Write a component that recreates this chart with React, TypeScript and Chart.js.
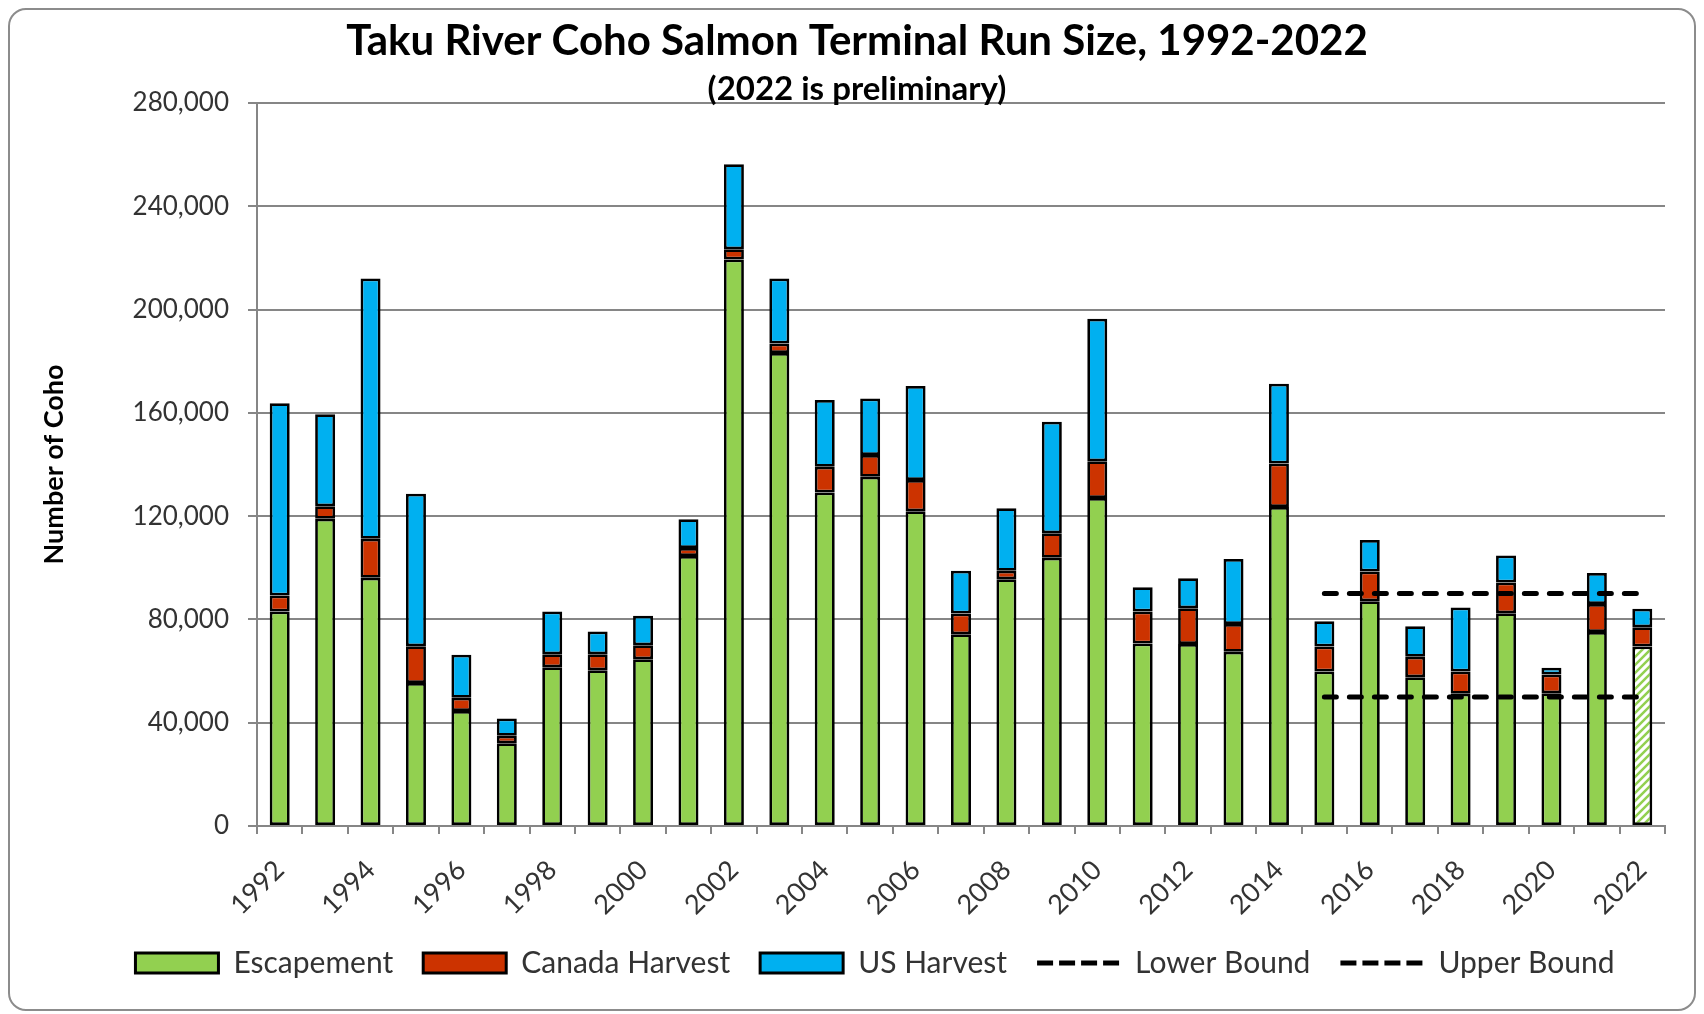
import React, { useEffect, useRef } from "react";
import { Chart, registerables } from "chart.js";

Chart.register(...registerables);

const years: string[] = [
  "1992", "1993", "1994", "1995", "1996", "1997", "1998", "1999", "2000", "2001",
  "2002", "2003", "2004", "2005", "2006", "2007", "2008", "2009", "2010", "2011",
  "2012", "2013", "2014", "2015", "2016", "2017", "2018", "2019", "2020", "2021", "2022",
];

const escapement: number[] = [
  83100, 119000, 96100, 55400, 44500, 32000, 61500, 60300, 64600, 104600,
  219400, 183200, 129200, 135300, 121900, 74300, 95600, 103900, 127000, 70700,
  70500, 67500, 123500, 59800, 87000, 57600, 51200, 82400, 51400, 75100, 69500,
];

const canadaHarvest: number[] = [
  6200, 4800, 15100, 14200, 5200, 3000, 5000, 6200, 5400, 3100,
  4000, 3700, 9900, 8400, 12100, 8000, 3300, 9500, 14300, 12400,
  13800, 10700, 16900, 9700, 11600, 7900, 8600, 11900, 7300, 10900, 7500,
];

const usHarvest: number[] = [
  74400, 35700, 100800, 59100, 16600, 6600, 16600, 8800, 11400, 11100,
  32900, 25100, 25900, 21900, 36400, 16600, 24200, 43200, 55100, 9400,
  11600, 25200, 30900, 9800, 12200, 11900, 24800, 10500, 2600, 12000, 7100,
];

const lowerBound: (number | null)[] = [
  null, null, null, null, null, null, null, null, null, null,
  null, null, null, null, null, null, null, null, null, null,
  null, null, null, 50000, 50000, 50000, 50000, 50000, 50000, 50000, 50000,
];

const upperBound: (number | null)[] = [
  null, null, null, null, null, null, null, null, null, null,
  null, null, null, null, null, null, null, null, null, null,
  null, null, null, 90000, 90000, 90000, 90000, 90000, 90000, 90000, 90000,
];

const yTicks: number[] = [0, 40000, 80000, 120000, 160000, 200000, 240000, 280000];

const TITLE = "Taku River Coho Salmon Terminal Run Size, 1992-2022";
const SUBTITLE = "(2022 is preliminary)";
const Y_TITLE = "Number of Coho";

const GREEN = "#92D050";
const RED = "#CC3300";
const BLUE = "#00B0F0";
const GRID = "#868686";
const TEXT = "#333333";
const FONT = "Lato";

export default function App() {
  const ref = useRef<HTMLCanvasElement>(null);

  useEffect(() => {
    const canvas = ref.current;
    if (!canvas) return;

    const tile = document.createElement("canvas");
    tile.width = 8;
    tile.height = 8;
    const tctx = tile.getContext("2d")!;
    tctx.fillStyle = "#ffffff";
    tctx.fillRect(0, 0, 8, 8);
    tctx.strokeStyle = GREEN;
    tctx.lineWidth = 2.5;
    tctx.beginPath();
    tctx.moveTo(-2, 10);
    tctx.lineTo(10, -2);
    tctx.moveTo(-2, 2);
    tctx.lineTo(2, -2);
    tctx.moveTo(6, 10);
    tctx.lineTo(10, 6);
    tctx.stroke();
    const hatch = canvas.getContext("2d")!.createPattern(tile, "repeat")!;

    const escColors = years.map((_, i) => (i === years.length - 1 ? hatch : GREEN));
    const legendFill = [GREEN, RED, BLUE];

    const barCommon = {
      type: "bar" as const,
      borderColor: "#000000",
      borderWidth: 2.75,
      borderSkipped: false,
      stack: "run",
      barPercentage: 0.44,
      categoryPercentage: 1.0,
    };

    const boundCommon = {
      type: "line" as const,
      borderColor: "#000000",
      borderWidth: 5,
      borderDash: [12, 13],
      borderCapStyle: "round",
      pointRadius: 0,
      fill: false,
      order: -1,
      spanGaps: false,
    };

    const legendShift = {
      id: "legendShift",
      afterLayout(c: any) {
        if (c.legend) {
          c.legend.left += 18;
          c.legend.right += 18;
        }
      },
    };

    const chart = new Chart(canvas, {
      data: {
        labels: years,
        datasets: [
          { ...barCommon, label: "Escapement", data: escapement, backgroundColor: escColors },
          { ...barCommon, label: "Canada Harvest", data: canadaHarvest, backgroundColor: RED },
          { ...barCommon, label: "US Harvest", data: usHarvest, backgroundColor: BLUE },
          { ...boundCommon, label: "Lower Bound", data: lowerBound, stack: "lower" },
          { ...boundCommon, label: "Upper Bound", data: upperBound, stack: "upper" },
        ] as any,
      },
      plugins: [legendShift],
      options: {
        responsive: false,
        animation: false,
        events: [],
        layout: { padding: { left: 10, right: 0, top: 0, bottom: 21 } },
        scales: {
          x: {
            stacked: true,
            offset: true,
            grid: {
              offset: true,
              drawOnChartArea: false,
              drawTicks: true,
              tickLength: 8,
              color: GRID,
              lineWidth: 2,
            },
            border: { color: GRID, width: 2 },
            ticks: {
              autoSkip: false,
              minRotation: 45,
              maxRotation: 45,
              padding: 20,
              color: TEXT,
              font: { family: FONT, size: 27 },
              callback: (_v: any, i: number) => (i % 2 === 0 ? years[i] : ""),
            },
            afterFit: (s: any) => {
              s.height = 92;
            },
          },
          y: {
            stacked: true,
            min: 0,
            max: 280000,
            afterBuildTicks: (s: any) => {
              s.ticks = yTicks.map((v) => ({ value: v }));
            },
            grid: { color: GRID, lineWidth: 2, tickLength: 9, drawTicks: true },
            border: { color: GRID, width: 2 },
            ticks: {
              padding: 19,
              color: TEXT,
              font: { family: FONT, size: 26 },
              callback: (v: any) => Number(v).toLocaleString("en-US"),
            },
            title: {
              display: true,
              text: Y_TITLE,
              color: "#000000",
              font: { family: FONT, size: 27, weight: "bold", lineHeight: 1.2 },
              padding: { top: 18, bottom: 0 },
            },
            afterFit: (s: any) => {
              s.width = 237;
            },
          },
          yRightSpace: {
            type: "linear",
            position: "right",
            display: true,
            min: 0,
            max: 1,
            grid: { display: false, drawTicks: false },
            border: { display: false },
            ticks: { display: false },
            afterFit: (s: any) => {
              s.width = 29;
            },
          },
        },
        plugins: {
          title: {
            display: true,
            text: TITLE,
            color: "#000000",
            font: { family: FONT, size: 42, weight: "bold", lineHeight: 1.2 },
            padding: { top: 5.8, bottom: 10.1 },
          },
          subtitle: {
            display: true,
            text: SUBTITLE,
            color: "#000000",
            font: { family: FONT, size: 33, weight: "bold", lineHeight: 0.8 },
            padding: { top: 0, bottom: 0.3 },
          },
          tooltip: { enabled: false },
          legend: {
            display: true,
            position: "bottom",
            labels: {
              usePointStyle: true,
              pointStyleWidth: 83,
              boxHeight: 20,
              padding: 30,
              color: TEXT,
              font: { family: FONT, size: 30 },
              generateLabels: (c: any) =>
                c.data.datasets.map((ds: any, i: number) => {
                  const isLine = ds.type === "line";
                  return {
                    text: ds.label,
                    datasetIndex: i,
                    fillStyle: isLine ? "rgba(0,0,0,0)" : legendFill[i],
                    strokeStyle: "#000000",
                    lineWidth: isLine ? 5 : 3,
                    lineDash: isLine ? [16, 6] : [],
                    lineCap: "butt",
                    pointStyle: isLine ? "line" : "rect",
                    hidden: false,
                    fontColor: TEXT,
                  };
                }),
            },
          },
        },
      } as any,
    });

    return () => {
      chart.destroy();
    };
  }, []);

  return (
    <div
      style={{
        width: 1688,
        height: 1003,
        border: "2px solid #8c8c8c",
        borderRadius: 18,
        boxSizing: "border-box",
        overflow: "hidden",
        background: "#ffffff",
      }}
    >
      <canvas ref={ref} width={1684} height={999} style={{ display: "block" }} />
    </div>
  );
}
